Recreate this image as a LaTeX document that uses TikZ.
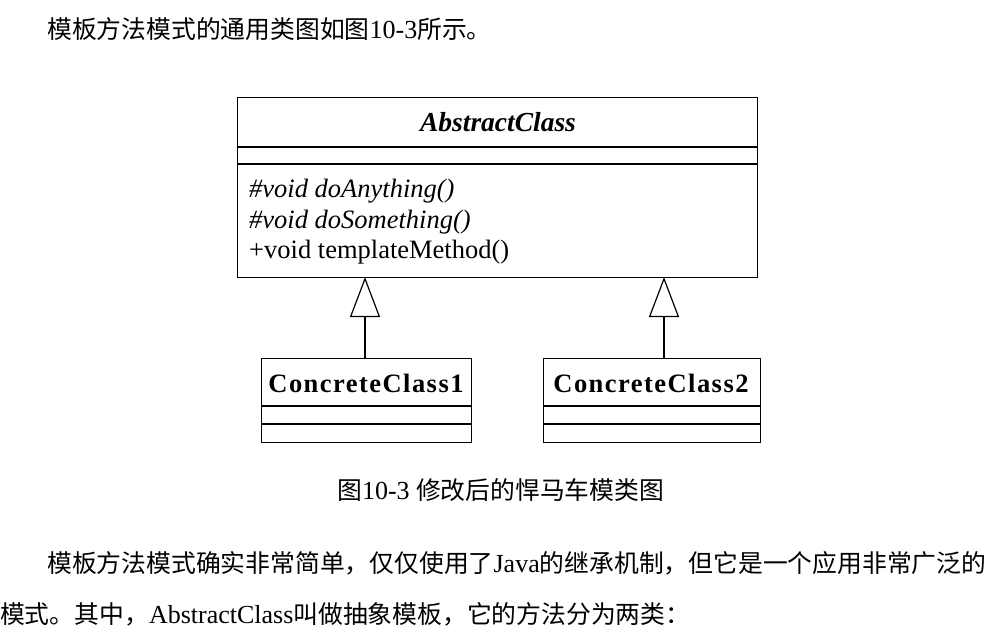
\documentclass[tikz,border=0pt]{standalone}
\usepackage{fontspec}
\setmainfont{Liberation Serif}
\newfontfamily\cjk{Noto Sans CJK SC}
\newfontfamily\spacedbf[LetterSpace=5.5]{Liberation Serif}
\usetikzlibrary{arrows.meta}
\newcommand{\zh}[1]{{\fontsize{24.8}{29}\selectfont\cjk #1}}
\begin{document}
\begin{tikzpicture}[x=1pt,y=-1pt,
  umlbox/.style={draw, line width=1.2pt, rectangle, inner sep=0pt, anchor=north west},
  sep/.style={line width=1.2pt},
  inh/.style={line width=1.2pt, -{Triangle[open, length=40pt, width=30pt, line width=1.2pt]}},
  txt/.style={inner sep=0pt, anchor=base west, font=\fontsize{26}{29}\selectfont},
  cname/.style={inner sep=0pt, anchor=base, font=\fontsize{26.5}{30}\selectfont\spacedbf\bfseries},
  meth/.style={inner sep=0pt, anchor=base west, font=\fontsize{26.5}{30}\selectfont}]
\useasboundingbox (0,0) rectangle (995,637);
\fill[white] (0,0) rectangle (995,637);

% top text
\node[txt] (t1) at (47,38) {\zh{模板方法模式的通用类图如图}10-3\zh{所示。}};

% abstract class
\node[umlbox, minimum width=520pt, minimum height=180pt] (abs) at (237,97) {};
\draw[sep] ([yshift=-50pt]abs.north west) -- ([yshift=-50pt]abs.north east);
\draw[sep] ([yshift=-67pt]abs.north west) -- ([yshift=-67pt]abs.north east);
\node[inner sep=0pt, anchor=base, font=\fontsize{27.5}{30}\selectfont\bfseries\itshape] (absname) at (498,131) {AbstractClass};
\node[meth] (m1) at (249,197) {\itshape \#void doAnything()};
\node[meth] (m2) at (249,228) {\itshape \#void doSomething()};
\node[meth] (m3) at (249,258) {+void templateMethod()};

% concrete classes
\node[umlbox, minimum width=210pt, minimum height=84pt] (cc1) at (261,358) {};
\draw[sep] ([yshift=-48pt]cc1.north west) -- ([yshift=-48pt]cc1.north east);
\draw[sep] ([yshift=-66pt]cc1.north west) -- ([yshift=-66pt]cc1.north east);
\node[cname] (cc1name) at (366,392) {ConcreteClass1};

\node[umlbox, minimum width=217pt, minimum height=84pt] (cc2) at (543,358) {};
\draw[sep] ([yshift=-48pt]cc2.north west) -- ([yshift=-48pt]cc2.north east);
\draw[sep] ([yshift=-66pt]cc2.north west) -- ([yshift=-66pt]cc2.north east);
\node[cname] (cc2name) at (651,392) {ConcreteClass2};

% inheritance
\coordinate (a1) at (365,277);
\coordinate (a2) at (664,277);
\draw[inh] (a1 |- cc1.north) -- (a1);
\draw[inh] (a2 |- cc2.north) -- (a2);

% caption
\node[txt] (cap) at (337,499) {\zh{图}10-3 \zh{修改后的悍马车模类图}};

% paragraph
\node[txt] (p1) at (47,572) {\zh{模板方法模式确实非常简单，仅仅使用了}Java\zh{的继承机制，但它是一个应用非常广泛的}};
\node[txt] (p2) at (0,623) {\zh{模式。其中，}AbstractClass\zh{叫做抽象模板，它的方法分为两类：}};
\end{tikzpicture}
\end{document}
